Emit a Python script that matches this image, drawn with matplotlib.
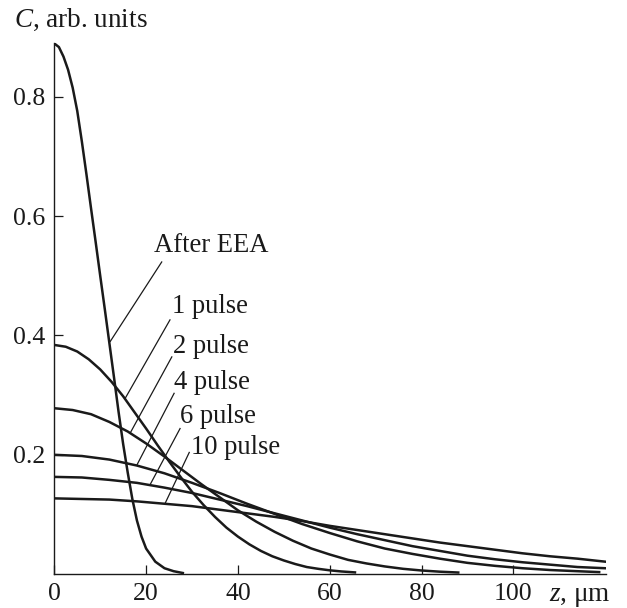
import numpy as np
import matplotlib.pyplot as plt

plt.rcParams['font.family'] = 'Liberation Serif'
plt.rcParams['mathtext.fontset'] = 'custom'
plt.rcParams['mathtext.rm'] = 'Liberation Serif'
plt.rcParams['mathtext.it'] = 'Liberation Serif:italic'

# concentration profiles C(z), z in micrometres
z_eea = [0, 1, 2, 3, 4, 5, 6, 7, 8, 9, 10, 11, 12, 13, 14, 15, 16, 17, 18, 19, 20, 22, 24, 26, 28]
c_eea = [0.889, 0.883, 0.867, 0.845, 0.815, 0.776, 0.725, 0.670, 0.613, 0.557, 0.500, 0.444,
         0.387, 0.330, 0.272, 0.218, 0.170, 0.126, 0.090, 0.063, 0.043, 0.021, 0.010, 0.005, 0.002]

z_p1 = [0, 2.5, 5, 7.5, 10, 12.5, 15, 17.5, 20, 22.5, 25, 27.5, 30, 32.5, 35, 37.5, 40,
        42.5, 45, 47.5, 50, 52.5, 55, 57.5, 60, 62.5, 65.5]
c_p1 = [0.384, 0.381, 0.373, 0.360, 0.343, 0.322, 0.298, 0.271, 0.244, 0.216, 0.189, 0.163,
        0.138, 0.116, 0.096, 0.078, 0.063, 0.050, 0.039, 0.030, 0.023, 0.017, 0.012, 0.009,
        0.0065, 0.0046, 0.003]

z_p2 = [0, 4, 8, 12, 16, 20, 24, 28, 32, 36, 40, 44, 48, 52, 56, 60, 64, 68, 72, 76, 80, 84, 88]
c_p2 = [0.278, 0.275, 0.268, 0.255, 0.239, 0.219, 0.197, 0.174, 0.151, 0.129, 0.107, 0.088,
        0.071, 0.056, 0.043, 0.033, 0.024, 0.018, 0.013, 0.009, 0.0062, 0.0042, 0.0028]

z_long = [0, 6, 12, 18, 24, 30, 36, 42, 48, 54, 60, 66, 72, 78, 84, 90, 96, 102, 108, 114, 120]
z_p4 = z_long[:-1] + [118.7]
c_p4 = [0.200, 0.198, 0.192, 0.182, 0.169, 0.153, 0.136, 0.118, 0.101, 0.084, 0.069, 0.055,
        0.043, 0.034, 0.026, 0.019, 0.014, 0.010, 0.007, 0.005, 0.0035]
c_p6 = [0.163, 0.162, 0.158, 0.153, 0.145, 0.136, 0.125, 0.114, 0.102, 0.090, 0.078, 0.067,
        0.057, 0.047, 0.039, 0.031, 0.025, 0.020, 0.016, 0.012, 0.010]
c_p10 = [0.127, 0.126, 0.125, 0.122, 0.118, 0.114, 0.108, 0.102, 0.096, 0.089, 0.081, 0.074,
         0.067, 0.060, 0.053, 0.047, 0.041, 0.035, 0.030, 0.026, 0.021]

# label text, text anchor (z, C), leader start and end
labels = ['After EEA', '1 pulse', '2 pulse', '4 pulse', '6 pulse', '10 pulse']
label_xy = [(21.8, 0.540), (25.6, 0.437), (25.8, 0.371), (26.1, 0.310), (27.4, 0.253), (29.7, 0.201)]
leader_from = [(23.4, 0.523), (25.2, 0.426), (25.6, 0.364), (26.1, 0.303), (27.4, 0.244), (29.4, 0.204)]
leader_to = [(12.2, 0.390), (15.4, 0.294), (16.5, 0.236), (18.0, 0.183), (20.8, 0.149), (24.1, 0.118)]

ink = '#1a1a1a'
fig = plt.figure(figsize=(6.27, 6.08), dpi=100)
ax = fig.add_axes([0.0866, 0.0556, 0.880, 0.8729])

lw = 1.8
ax.plot(z_eea, c_eea, color=ink, lw=lw)
ax.plot(z_p1, c_p1, color=ink, lw=lw)
ax.plot(z_p2, c_p2, color=ink, lw=lw)
ax.plot(z_p4, c_p4, color=ink, lw=lw)
ax.plot(z_long, c_p6, color=ink, lw=lw)
ax.plot(z_long, c_p10, color=ink, lw=lw)

for text, (tx, ty), (x0, y0), (x1, y1) in zip(labels, label_xy, leader_from, leader_to):
    ax.plot([x0, x1], [y0, y1], color=ink, lw=0.9)
    ax.text(tx, ty, text, fontsize=19.2, ha='left', va='baseline', color=ink)

ax.set_xlim(0, 120.2)
ax.set_ylim(0, 0.889)
ax.set_xticks([0, 20, 40, 60, 80, 100])
ax.set_yticks([0.2, 0.4, 0.6, 0.8])
ax.set_yticklabels(['0.2', '0.4', '0.6', '0.8'])
ax.tick_params(direction='in', length=6.5, width=0.9, labelsize=18.5, pad=6.5, colors=ink)
for side in ['top', 'right']:
    ax.spines[side].set_visible(False)
for side in ['left', 'bottom']:
    ax.spines[side].set_linewidth(1.0)
    ax.spines[side].set_color(ink)

fig.text(14 / 627, 1 - 26.7 / 608, '$C$, arb. units', fontsize=19.5, ha='left', va='baseline', color=ink)
fig.text(549 / 627, 1 - 601 / 608, '$z$, μm', fontsize=19.5, ha='left', va='baseline', color=ink)

fig.savefig('out.png', dpi=100)
